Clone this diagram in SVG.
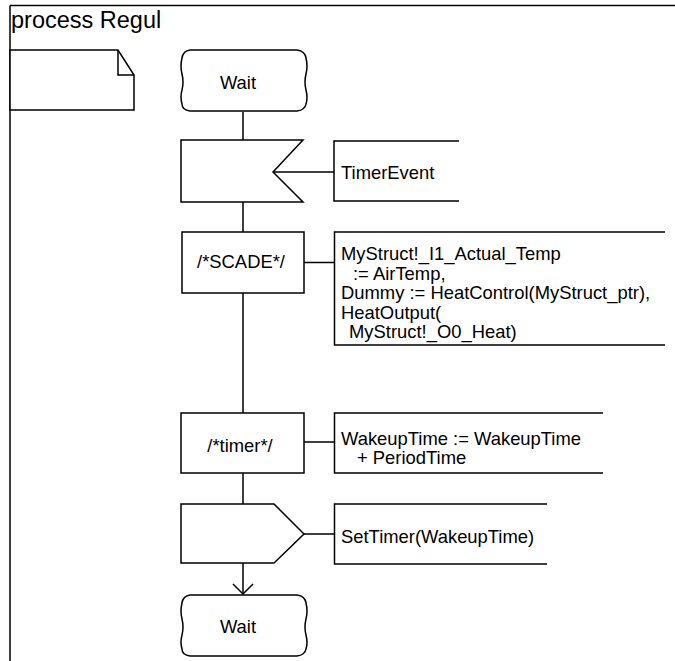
<svg xmlns="http://www.w3.org/2000/svg" width="675" height="661" viewBox="0 0 675 661">
<style>
.s{fill:#fff;stroke:#000;stroke-width:1.5}
.l{fill:none;stroke:#000;stroke-width:1.5}
text{font-family:"Liberation Sans",Arial,sans-serif;font-size:18.4px;fill:#000}
.c{text-anchor:middle}
</style>
<rect width="675" height="661" fill="#fff"/>
<g id="frame">
<path class="l" d="M10,5.5H675M10,5.5V661"/>
<text x="11" y="28" style="font-size:23.5px">process Regul</text>
</g>
<g id="connectors">
<path class="l" d="M243,112V140M243,202V232M243,293V413M243,473V504M243,563V593"/>
<path class="l" d="M233,584L243,594L253,584"/>
<path class="l" d="M273,172H334M304,262.5H334M304,442H334M304,534H334"/>
</g>
<g id="note">
<path class="s" d="M10,50H118L134,75V110H10Z"/>
<path class="l" d="M118,50V75H134"/>
</g>
<g id="wait1">
<path class="s" d="M190,50H297Q305,51 306,58Q308,66 306,74Q304,82 306,90Q308,98 306,104Q305,110 297,111H190Q182,110 182,104Q180,97 182,90Q184,82 182,74Q180,66 182,58Q183,51 190,50Z"/>
<text class="c" x="238" y="89">Wait</text>
</g>
<g id="input">
<path class="s" d="M181,140H303L273,172L303,202H181Z"/>
</g>
<g id="c_timerevent">
<path class="l" d="M459,141H334V201H459"/>
<text x="341" y="179">TimerEvent</text>
</g>
<g id="task_scade">
<rect class="s" x="182" y="232" width="122" height="61"/>
<text class="c" x="241" y="268">/*SCADE*/</text>
</g>
<g id="c_scade">
<path class="l" d="M665,232H334.5V345H665"/>
<text x="341" y="260">MyStruct!_I1_Actual_Temp</text>
<text x="353" y="279.5">:= AirTemp,</text>
<text x="341" y="299">Dummy := HeatControl(MyStruct_ptr),</text>
<text x="341" y="318.5">HeatOutput(</text>
<text x="349" y="338">MyStruct!_O0_Heat)</text>
</g>
<g id="task_timer">
<rect class="s" x="181" y="413" width="123" height="60"/>
<text class="c" x="240" y="452">/*timer*/</text>
</g>
<g id="c_timer">
<path class="l" d="M603,413H334.5V473H603"/>
<text x="341" y="445">WakeupTime := WakeupTime</text>
<text x="357" y="464">+ PeriodTime</text>
</g>
<g id="output">
<path class="s" d="M181,504H274L304,534L274,563H181Z"/>
</g>
<g id="c_settimer">
<path class="l" d="M547,504H334.5V564H547"/>
<text x="341" y="543">SetTimer(WakeupTime)</text>
</g>
<g id="wait2">
<path class="s" d="M190,595H297Q305,596 306,603Q308,611 306,619Q304,627 306,635Q308,643 306,649Q305,655 297,656H190Q182,655 182,649Q180,642 182,635Q184,627 182,619Q180,611 182,603Q183,596 190,595Z"/>
<text class="c" x="238" y="633">Wait</text>
</g>
</svg>
